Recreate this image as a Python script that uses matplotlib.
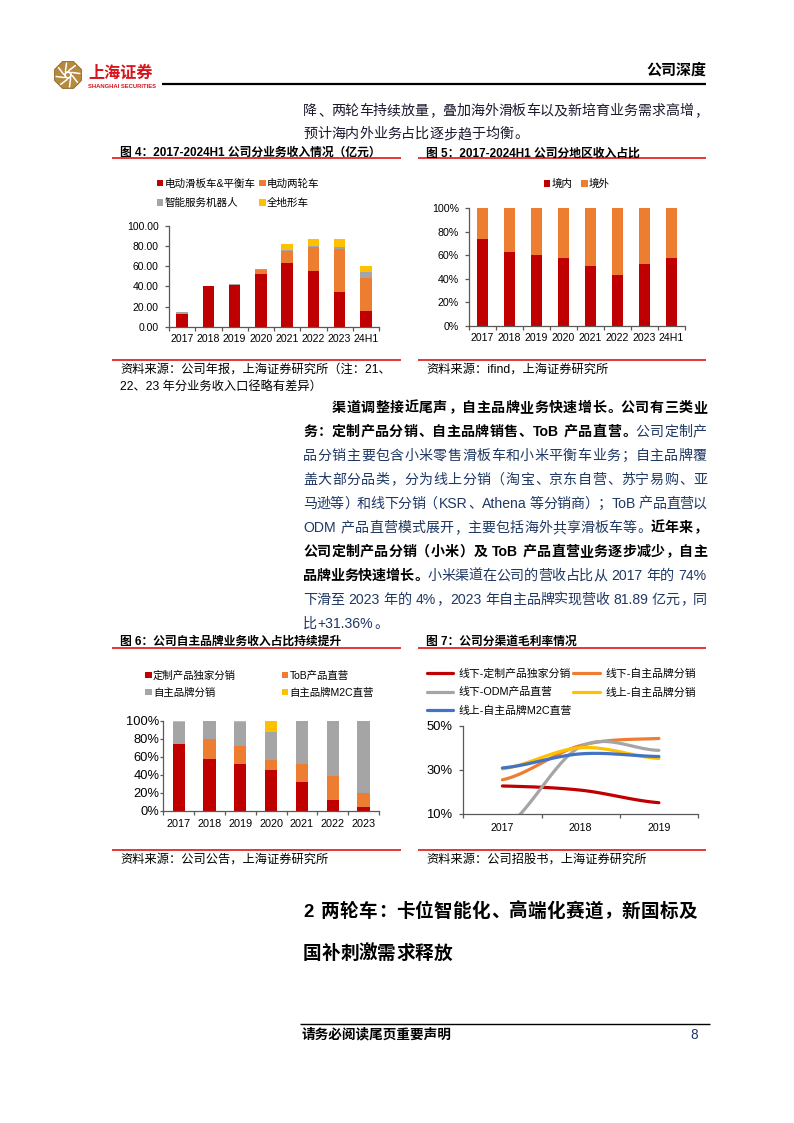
import numpy as np
import matplotlib
matplotlib.use('Agg')
import matplotlib.pyplot as plt
from matplotlib.patches import Rectangle, RegularPolygon, Circle
from matplotlib.lines import Line2D

# ---------------- data ----------------
years4 = ['2017', '2018', '2019', '2020', '2021', '2022', '2023', '24H1']
rev_scooter = [12.9, 40.2, 41.2, 52.2, 63.5, 55.0, 34.6, 15.8]   # 电动滑板车&平衡车
rev_twowheel = [0.0, 0.0, 0.0, 3.8, 12.1, 24.2, 42.2, 33.0]      # 电动两轮车
rev_robot = [1.4, 0.6, 1.6, 1.6, 0.3, 1.4, 2.3, 5.4]             # 智能服务机器人
rev_atv = [0.0, 0.0, 0.0, 0.0, 6.4, 6.8, 8.4, 5.7]               # 全地形车
legend4 = ['电动滑板车&平衡车', '电动两轮车', '智能服务机器人', '全地形车']

years5 = ['2017', '2018', '2019', '2020', '2021', '2022', '2023', '24H1']
domestic = [73.6, 62.5, 60.0, 57.7, 50.9, 42.9, 52.6, 57.7]
overseas = [26.4, 37.5, 40.0, 42.3, 49.1, 57.1, 47.4, 42.3]
legend5 = ['境内', '境外']

years6 = ['2017', '2018', '2019', '2020', '2021', '2022', '2023']
ch_custom = [73.9, 57.0, 51.9, 45.1, 31.7, 11.9, 3.9]    # 定制产品独家分销
ch_tob = [0.0, 22.9, 20.1, 11.2, 20.5, 26.5, 15.5]       # ToB产品直营
ch_own = [23.9, 19.0, 25.8, 31.0, 47.8, 61.6, 80.6]      # 自主品牌分销
ch_m2c = [1.8, 1.1, 2.2, 12.7, 0.0, 0.0, 0.0]            # 自主品牌M2C直营
legend6 = ['定制产品独家分销', 'ToB产品直营', '自主品牌分销', '自主品牌M2C直营']

years7 = ['2017', '2018', '2019']
gm_off_custom = [22.6, 20.7, 15.0]   # 线下-定制产品独家分销
gm_off_own = [25.4, 41.0, 44.2]      # 线下-自主品牌分销
gm_off_odm = [3.0, 40.5, 38.8]       # 线下-ODM产品直营
gm_on_own = [30.4, 40.0, 35.1]       # 线上-自主品牌分销
gm_on_m2c = [30.8, 37.2, 36.0]       # 线上-自主品牌M2C直营
legend7 = ['线下-定制产品独家分销', '线下-自主品牌分销', '线下-ODM产品直营',
           '线上-自主品牌分销', '线上-自主品牌M2C直营']

# ---------------- setup ----------------
W, H = 794, 1123
DPI = 100
FAM = ['Liberation Sans', 'Noto Sans CJK SC', 'DejaVu Sans']
plt.rcParams['font.family'] = FAM
fig = plt.figure(figsize=(W / DPI, H / DPI), dpi=DPI)
renderer = fig.canvas.get_renderer()

RED = '#C00000'
ORANGE = '#ED7D31'
GRAY = '#A5A5A5'
YELLOW = '#FFC000'
BLUE = '#4472C4'
LINE_RED = '#E00000'
NAVY = '#1F3864'
AXC = '#595959'


def fx(x):
    return x / W


def fy(y):
    return 1 - y / H


def hline(x0, x1, y, color, lw):
    fig.add_artist(Line2D([fx(x0), fx(x1)], [fy(y), fy(y)], color=color, lw=lw,
                          transform=fig.transFigure, solid_capstyle='butt'))


def text_c(x, y, s, fs_pt, weight='normal', color='black', ha='left'):
    em = fs_pt * DPI / 72
    fig.text(fx(x), fy(y + 0.36 * em), s, fontsize=fs_pt, weight=weight, color=color,
             ha=ha, va='baseline', family=FAM)


def tokenize(segments):
    toks = []
    for s, bold, color in segments:
        buf = ''
        for ch in s:
            if ch == ' ':
                if buf:
                    toks.append((buf, bold, color, 'lat'))
                    buf = ''
                toks.append((' ', bold, color, 'sp'))
            elif ord(ch) < 128:
                buf += ch
            else:
                if buf:
                    toks.append((buf, bold, color, 'lat'))
                    buf = ''
                toks.append((ch, bold, color, 'cjk'))
        if buf:
            toks.append((buf, bold, color, 'lat'))
    return toks


OPEN = '（《“‘【'
CLOSE = '，。、；：）》”’！？'


def rich_line(y, x0, x1, segments, fs_pt, justify=True):
    em = fs_pt * DPI / 72
    toks = tokenize(segments)
    items = []
    for s, bold, color, kind in toks:
        w = 'bold' if bold else 'normal'
        if kind == 'cjk':
            items.append([s, w, color, kind, em, None])
        elif kind == 'sp':
            items.append([s, w, color, kind, 0.28 * em, None])
        else:
            t = fig.text(0, 0, s, fontsize=fs_pt, weight=w, color=color,
                         family=FAM, ha='left', va='baseline')
            wd = t.get_window_extent(renderer).width + 0.08 * em
            items.append([s, w, color, kind, wd, t])
    total = sum(it[4] for it in items)
    n = len(items)
    extra = (x1 - x0 - total) / (n - 1) if (justify and n > 1) else 0.0
    base = fy(y + 0.36 * em)
    cur = x0
    for s, w, color, kind, wd, t in items:
        if kind == 'cjk':
            if s in OPEN:
                ha, xp = 'right', cur + 0.94 * em
            elif s in CLOSE:
                ha, xp = 'left', cur + 0.06 * em
            else:
                ha, xp = 'center', cur + 0.5 * em
            fig.text(fx(xp), base, s, fontsize=fs_pt, weight=w, color=color,
                     family=FAM, ha=ha, va='baseline')
        elif kind == 'lat':
            t.set_position((fx(cur + 0.04 * em), base))
        cur += wd + extra


def add_ax(l, r, t, b):
    return fig.add_axes([fx(l), fy(b), (r - l) / W, (b - t) / H])


def style_ax(ax, ncat, labels, ylim, yticks, ylabels, yfs, xfs, ypad, xpad, ylen):
    ax.set_xlim(-0.5, ncat - 0.5)
    ax.set_ylim(*ylim)
    for s in ['top', 'right']:
        ax.spines[s].set_visible(False)
    for s in ['left', 'bottom']:
        ax.spines[s].set_color(AXC)
        ax.spines[s].set_linewidth(0.9)
    ax.set_yticks(yticks)
    ax.set_yticklabels(ylabels)
    ax.set_xticks(np.arange(ncat))
    ax.set_xticklabels(labels)
    ax.set_xticks(np.arange(ncat + 1) - 0.5, minor=True)
    ax.tick_params(axis='x', which='major', length=0, pad=xpad, labelsize=xfs, labelcolor='black')
    ax.tick_params(axis='x', which='minor', length=3, width=0.9, color=AXC, direction='out')
    ax.tick_params(axis='y', which='major', length=ylen, width=0.9, color=AXC, pad=ypad,
                   labelsize=yfs, labelcolor='black', direction='out')
    ax.set_facecolor('none')


def legend_square(x, y, color, label, fs):
    s = 6.5
    fig.add_artist(Rectangle((fx(x), fy(y + s / 2)), s / W, s / H, facecolor=color,
                             edgecolor='none', transform=fig.transFigure))
    text_c(x + s + 1.5, y, label, fs)


def legend_line(x0, x1, y, color, label, fs):
    fig.add_artist(Line2D([fx(x0), fx(x1)], [fy(y), fy(y)], color=color, lw=2.3,
                          transform=fig.transFigure, solid_capstyle='round'))
    text_c(x1 + 5, y, label, fs)


# ---------------- header ----------------
lax = add_ax(51, 85, 58, 92)
lax.set_xlim(0, 34)
lax.set_ylim(34, 0)
lax.axis('off')
lax.add_patch(RegularPolygon((17, 17), 8, radius=14.5, orientation=np.pi / 8,
                             facecolor='#B58A3E', edgecolor='#8C6425', lw=0.6))
for k in range(8):
    th = np.deg2rad(k * 45 + 10)
    th2 = th + np.deg2rad(28)
    lax.plot([17 + 4.5 * np.cos(th), 17 + 12 * np.cos(th2)],
             [17 + 4.5 * np.sin(th), 17 + 12 * np.sin(th2)], color='white', lw=1.1,
             solid_capstyle='round')
lax.add_patch(Circle((17, 17), 4.0, facecolor='white', edgecolor='none'))
lax.add_patch(Circle((17, 17), 2.0, facecolor='#B58A3E', edgecolor='none'))

text_c(88, 72, '上海证券', 11.6, 'bold', '#D7141C')
fig.text(fx(88), fy(88), 'SHANGHAI SECURITIES', fontsize=4.2, weight='bold', color='#D7141C',
         family=FAM, ha='left', va='baseline')
hline(162, 706, 84, 'black', 1.6)
text_c(706, 69, '公司深度', 10.8, 'bold', 'black', ha='right')

# ---------------- top text ----------------
BODY = 10.1
TOPC = '#1A1A2E'
rich_line(110, 303, 707, [('降、两轮车持续放量，叠加海外滑板车以及新培育业务需求高增，', False, TOPC)], BODY)
rich_line(133, 303, 707, [('预计海内外业务占比逐步趋于均衡。', False, TOPC)], BODY, justify=False)

# ---------------- captions figure 4/5 ----------------
CAP = 8.5
text_c(120, 152, '图 4：2017-2024H1 公司分业务收入情况（亿元）', CAP, 'bold')
text_c(426, 152, '图 5：2017-2024H1 公司分地区收入占比', CAP, 'bold')
hline(112, 401, 158, LINE_RED, 1.1)
hline(418, 706, 158, LINE_RED, 1.1)
hline(112, 401, 360, LINE_RED, 1.1)
hline(418, 706, 360, LINE_RED, 1.1)
SRC = 8.8
text_c(120, 368, '资料来源：公司年报，上海证券研究所（注：21、', SRC)
text_c(120, 385, '22、23 年分业务收入口径略有差异）', SRC)
text_c(426, 368, '资料来源：ifind，上海证券研究所', SRC)

# ---------------- chart 4 ----------------
ax4 = add_ax(169, 379, 226, 326.7)
x4 = np.arange(len(years4))
bottom = np.zeros(len(years4))
for vals, col in [(rev_scooter, RED), (rev_twowheel, ORANGE), (rev_robot, GRAY), (rev_atv, YELLOW)]:
    v = np.array(vals)
    ax4.bar(x4, v, 0.44, bottom=bottom, color=col, edgecolor='none')
    bottom = bottom + v
yt4 = [0, 20, 40, 60, 80, 100]
style_ax(ax4, len(years4), years4, (0, 100), yt4, [f'{v:.2f}' for v in yt4],
         7.5, 7.6, 4.3, 5.0, 3)
LEG = 7.6
legend_square(156.5, 183, RED, legend4[0], LEG)
legend_square(259, 183, ORANGE, legend4[1], LEG)
legend_square(156.5, 202.5, GRAY, legend4[2], LEG)
legend_square(259, 202.5, YELLOW, legend4[3], LEG)

# ---------------- chart 5 ----------------
ax5 = add_ax(469, 685, 208.3, 325.7)
x5 = np.arange(len(years5))
ax5.bar(x5, domestic, 0.44, color=RED, edgecolor='none')
ax5.bar(x5, overseas, 0.44, bottom=domestic, color=ORANGE, edgecolor='none')
yt5 = [0, 20, 40, 60, 80, 100]
style_ax(ax5, len(years5), years5, (0, 100), yt5, [f'{v}%' for v in yt5],
         7.7, 7.6, 4.3, 5.5, 3)
legend_square(543.5, 183.5, RED, legend5[0], LEG)
legend_square(581, 183.5, ORANGE, legend5[1], LEG)

# ---------------- paragraph ----------------
para = [
    (407, 332, [('渠道调整接近尾声，自主品牌业务快速增长。公司有三类业', True, 'black')], True),
    (431, 303, [('务：定制产品分销、自主品牌销售、ToB 产品直营。', True, 'black'),
                ('公司定制产', False, NAVY)], True),
    (455, 303, [('品分销主要包含小米零售滑板车和小米平衡车业务；自主品牌覆', False, NAVY)], True),
    (478.5, 303, [('盖大部分品类，分为线上分销（淘宝、京东自营、苏宁易购、亚', False, NAVY)], True),
    (502.5, 303, [('马逊等）和线下分销（KSR、Athena 等分销商）；ToB 产品直营以', False, NAVY)], True),
    (527, 303, [('ODM 产品直营模式展开，主要包括海外共享滑板车等。', False, NAVY),
                ('近年来，', True, 'black')], True),
    (551, 303, [('公司定制产品分销（小米）及 ToB 产品直营业务逐步减少，自主', True, 'black')], True),
    (574.5, 303, [('品牌业务快速增长。', True, 'black'),
                  ('小米渠道在公司的营收占比从 2017 年的 74%', False, NAVY)], True),
    (598.5, 303, [('下滑至 2023 年的 4%，2023 年自主品牌实现营收 81.89 亿元，同', False, NAVY)], True),
    (622.5, 303, [('比+31.36%。', False, NAVY)], False),
]
for y, x0, segs, just in para:
    rich_line(y, x0, 707, segs, BODY, justify=just)

# ---------------- captions figure 6/7 ----------------
text_c(120, 640, '图 6：公司自主品牌业务收入占比持续提升', CAP, 'bold')
text_c(426, 640, '图 7：公司分渠道毛利率情况', CAP, 'bold')
hline(112, 401, 648, LINE_RED, 1.1)
hline(418, 706, 648, LINE_RED, 1.1)
hline(112, 401, 850, LINE_RED, 1.1)
hline(418, 706, 850, LINE_RED, 1.1)
text_c(120, 858, '资料来源：公司公告，上海证券研究所', SRC)
text_c(426, 858, '资料来源：公司招股书，上海证券研究所', SRC)

# ---------------- chart 6 ----------------
ax6 = add_ax(163.3, 379, 720.5, 810.5)
x6 = np.arange(len(years6))
bottom = np.zeros(len(years6))
for vals, col in [(ch_custom, RED), (ch_tob, ORANGE), (ch_own, GRAY), (ch_m2c, YELLOW)]:
    v = np.array(vals)
    ax6.bar(x6, v, 0.4, bottom=bottom, color=col, edgecolor='none')
    bottom = bottom + v
yt6 = [0, 20, 40, 60, 80, 100]
style_ax(ax6, len(years6), years6, (0, 100), yt6, [f'{v}%' for v in yt6],
         9.3, 7.8, 0.8, 5.8, 2)
LEG6 = 7.5
legend_square(145, 675, RED, legend6[0], LEG6)
legend_square(281.5, 675, ORANGE, legend6[1], LEG6)
legend_square(145, 692, GRAY, legend6[2], LEG6)
legend_square(281.5, 692, YELLOW, legend6[3], LEG6)

# ---------------- chart 7 ----------------
def smooth(ys, n=60):
    ys = np.asarray(ys, float)
    m = len(ys)
    tan = np.zeros(m)
    for i in range(m):
        lo = ys[max(i - 1, 0)]
        hi = ys[min(i + 1, m - 1)]
        tan[i] = (hi - lo) / 2
    xs_out, ys_out = [], []
    for i in range(m - 1):
        t = np.linspace(0, 1, n)
        h00 = 2 * t**3 - 3 * t**2 + 1
        h10 = t**3 - 2 * t**2 + t
        h01 = -2 * t**3 + 3 * t**2
        h11 = t**3 - t**2
        yy = h00 * ys[i] + h10 * tan[i] + h01 * ys[i + 1] + h11 * tan[i + 1]
        xs_out.append(i + t)
        ys_out.append(yy)
    return np.concatenate(xs_out), np.concatenate(ys_out)


ax7 = add_ax(463.3, 698, 725.7, 813.7)
series7 = [(gm_off_custom, RED), (gm_off_own, ORANGE), (gm_off_odm, GRAY),
           (gm_on_own, YELLOW), (gm_on_m2c, BLUE)]
for vals, col in series7:
    sx, sy = smooth(vals)
    ax7.plot(sx, sy, color=col, lw=2.3, solid_capstyle='round')
yt7 = [10, 30, 50]
style_ax(ax7, len(years7), years7, (10, 50), yt7, [f'{v}%' for v in yt7],
         9.4, 7.6, 5.0, 6.5, 3)
LEG7 = 7.8
legend_line(427, 453, 673, RED, legend7[0], LEG7)
legend_line(573, 600, 673, ORANGE, legend7[1], LEG7)
legend_line(427, 453, 691.5, GRAY, legend7[2], LEG7)
legend_line(573, 600, 691.5, YELLOW, legend7[3], LEG7)
legend_line(427, 453, 710, BLUE, legend7[4], LEG7)

# ---------------- section heading ----------------
HEAD = 13.4
rich_line(910, 303, 697, [('2 两轮车：卡位智能化、高端化赛道，新国标及', True, 'black')], HEAD)
rich_line(952, 303, 697, [('国补刺激需求释放', True, 'black')], HEAD, justify=False)

# ---------------- footer ----------------
hline(300, 710, 1024, 'black', 1.0)
text_c(302, 1034, '请务必阅读尾页重要声明', 9.8, 'bold')
text_c(698, 1034, '8', 9.8, 'normal', NAVY, ha='right')

fig.savefig('out.png', dpi=DPI)
